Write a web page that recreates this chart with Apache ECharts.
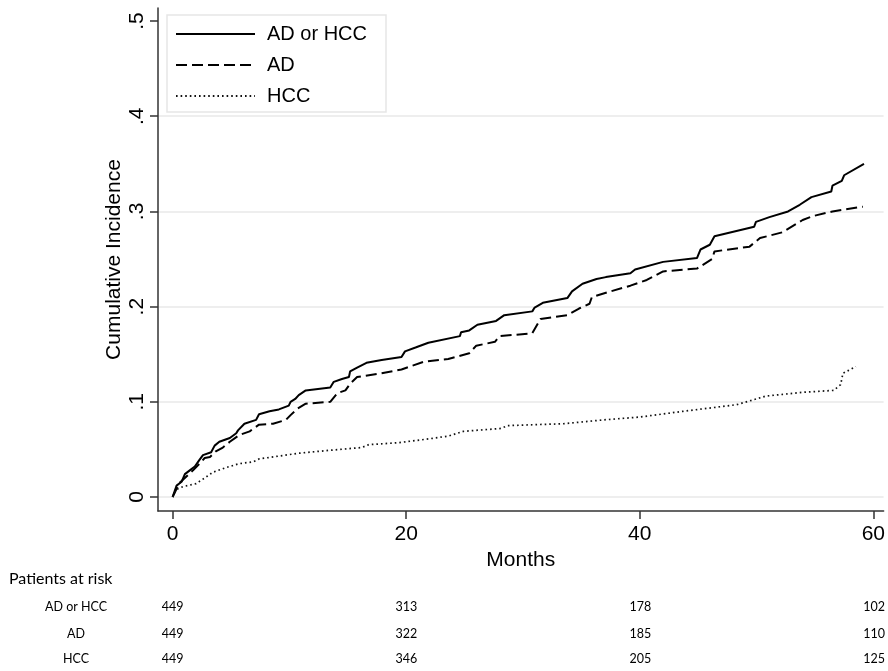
<!DOCTYPE html>
<html>
<head>
<meta charset="utf-8">
<script src="https://cdn.jsdelivr.net/npm/echarts@6/dist/echarts.min.js"></script>
<style>
  html, body { margin: 0; padding: 0; background: #fff; }
  #chart { width: 888px; height: 671px; }
</style>
</head>
<body>
<div id="chart"></div>
<script>
// cumulative incidence curves, [month, incidence]
var adOrHcc = [[0,0],[0.34,0.012],[0.77,0.016],[1.05,0.024],[1.47,0.028],[1.9,0.032],[2.3,0.039],[2.6,0.044],[3.3,0.047],[3.6,0.054],[4.0,0.058],[4.9,0.062],[5.45,0.067],[5.6,0.070],[6.15,0.077],[7.15,0.081],[7.4,0.087],[8.3,0.090],[9.1,0.092],[9.95,0.096],[10.1,0.100],[10.5,0.103],[10.8,0.107],[11.4,0.112],[13.5,0.115],[13.8,0.121],[14.5,0.124],[15.1,0.126],[15.2,0.132],[15.8,0.136],[16.6,0.141],[17.9,0.144],[19.6,0.147],[19.9,0.153],[20.8,0.157],[21.9,0.162],[24.6,0.169],[24.7,0.173],[25.4,0.175],[26.1,0.181],[27.7,0.185],[28.4,0.191],[30.8,0.195],[31.0,0.199],[31.7,0.204],[33.8,0.209],[34.2,0.216],[35.1,0.224],[36.3,0.229],[37.1,0.231],[39.2,0.235],[39.6,0.239],[42.0,0.247],[44.9,0.251],[45.2,0.260],[46.0,0.265],[46.4,0.274],[49.8,0.284],[49.95,0.289],[51.1,0.294],[52.7,0.300],[53.7,0.307],[54.7,0.315],[56.4,0.321],[56.5,0.327],[57.3,0.332],[57.5,0.338],[59.2,0.350]];
var ad = [[0,0],[0.6,0.015],[1.75,0.028],[2.3,0.035],[2.75,0.041],[3.2,0.042],[3.7,0.048],[4.3,0.052],[4.9,0.058],[5.7,0.065],[6.6,0.069],[7.4,0.076],[8.6,0.077],[9.7,0.081],[10.1,0.086],[10.7,0.093],[11.4,0.098],[13.5,0.100],[14.1,0.109],[14.8,0.112],[15.2,0.119],[15.8,0.126],[17.9,0.130],[19.6,0.134],[21.5,0.142],[23.6,0.145],[25.4,0.151],[26.0,0.159],[27.6,0.163],[28.0,0.169],[30.8,0.172],[31.5,0.187],[33.8,0.191],[34.8,0.198],[35.7,0.203],[35.9,0.210],[37.5,0.216],[39.2,0.222],[40.6,0.228],[42.0,0.237],[44.9,0.240],[46.2,0.250],[46.4,0.258],[49.4,0.263],[50.3,0.272],[52.2,0.278],[53.95,0.291],[54.8,0.295],[56.5,0.300],[59.1,0.305]];
var hcc = [[0,0],[0.34,0.008],[0.9,0.011],[2.0,0.014],[2.75,0.020],[3.45,0.026],[4.6,0.031],[5.7,0.035],[6.9,0.037],[7.4,0.040],[9.1,0.043],[10.8,0.046],[13.4,0.049],[16.2,0.052],[16.8,0.055],[19.3,0.057],[21.9,0.061],[23.6,0.064],[24.9,0.069],[28.1,0.072],[28.7,0.075],[33.5,0.077],[36.9,0.081],[40.0,0.084],[43.7,0.090],[48.3,0.097],[49.7,0.102],[50.8,0.106],[53.95,0.110],[56.6,0.112],[57.2,0.118],[57.4,0.130],[58.5,0.137]];

var seriesNames = ['AD or HCC', 'AD', 'HCC'];
var xTicks = [0, 20, 40, 60];
var yTicks = [0, 0.1, 0.2, 0.3, 0.4, 0.5];
var yGridTicks = [0, 0.1, 0.2, 0.3, 0.4];

// patients at risk table
var riskLabels = ['AD or HCC', 'AD', 'HCC'];
var riskAdOrHcc = [449, 313, 178, 102];
var riskAd = [449, 322, 185, 110];
var riskHcc = [449, 346, 205, 125];
var riskCounts = [riskAdOrHcc, riskAd, riskHcc];

var font = 'Liberation Sans';
var tableFont = 'Lato';
var xMin = -1.25, xMax = 60.88;
var yMin = -0.0147, yMax = 0.5137;
var rowTops = [597, 624, 649];

var myChart = echarts.init(document.getElementById('chart'));

var grids = [{ left: 158, right: 0, top: 8, bottom: 160 }];
var xAxes = [{
  type: 'value', gridIndex: 0, min: xMin, max: xMax,
  name: 'Months', nameLocation: 'middle', nameGap: 33,
  nameTextStyle: { fontFamily: font, fontSize: 21, color: '#000' },
  axisLine: { show: true, onZero: false, lineStyle: { color: '#333', width: 1.5 } },
  axisTick: { show: true, length: 8, customValues: xTicks, lineStyle: { color: '#333', width: 1.5 } },
  axisLabel: {
    customValues: xTicks, margin: 13, alignMaxLabel: 'center',
    fontFamily: font, fontSize: 21, color: '#000'
  },
  splitLine: { show: false }
}];
var yAxes = [{
  type: 'value', gridIndex: 0, min: yMin, max: yMax,
  name: 'Cumulative Incidence', nameLocation: 'middle', nameGap: 33, nameRotate: 90,
  nameMoveOverlap: false,
  nameTextStyle: { fontFamily: font, fontSize: 21, color: '#000' },
  axisLine: { show: true, onZero: false, lineStyle: { color: '#333', width: 1.5 } },
  axisTick: { show: true, length: 8, customValues: yTicks, lineStyle: { color: '#333', width: 1.5 } },
  axisLabel: {
    customValues: yTicks, rotate: 90, margin: 10,
    fontFamily: font, fontSize: 21, color: '#000',
    formatter: function (v) { return v === 0 ? '0' : v.toFixed(1).replace(/^0/, ''); }
  },
  splitLine: { show: false }
}, {
  // 只画网格线
  type: 'value', gridIndex: 0, min: yMin, max: yMax, position: 'left',
  axisLine: { show: false, onZero: false },
  axisTick: { show: false, customValues: yGridTicks },
  axisLabel: { show: false, customValues: yGridTicks },
  splitLine: { show: true, lineStyle: { color: '#e8e8e8', width: 1.5 } }
}];

riskLabels.forEach(function (label, i) {
  grids.push({ left: 158, right: 0, top: rowTops[i], height: 20 });
  xAxes.push({
    type: 'value', gridIndex: i + 1, min: xMin, max: xMax,
    axisLine: { show: false, onZero: false }, axisTick: { show: false }, splitLine: { show: false },
    axisLabel: {
      customValues: xTicks, margin: -10, verticalAlign: 'middle', alignMaxLabel: 'center',
      fontFamily: tableFont, fontSize: 12.5, color: '#000',
      formatter: function (v) { return String(riskCounts[i][xTicks.indexOf(v)]); }
    }
  });
  yAxes.push({
    type: 'category', gridIndex: i + 1, data: [label],
    axisLine: { show: false, onZero: false }, axisTick: { show: false }, splitLine: { show: false },
    axisLabel: { margin: 82, align: 'center', fontFamily: tableFont, fontSize: 12.5, color: '#000' }
  });
});

var option = {
  animation: false,
  backgroundColor: '#fff',
  title: {
    text: 'Patients at risk', left: 4, top: 566,
    textStyle: { fontFamily: tableFont, fontSize: 16, fontWeight: 'normal', color: '#000' }
  },
  legend: {
    orient: 'vertical', left: 167, top: 15,
    padding: [9, 19, 6, 8],
    itemWidth: 79, itemHeight: 14, itemGap: 11,
    borderColor: '#e6e6e6', borderWidth: 1.5, backgroundColor: '#fff',
    itemStyle: { opacity: 0 },
    textStyle: { fontFamily: font, fontSize: 20, color: '#000', padding: [0, 0, 0, 7] },
    data: seriesNames
  },
  grid: grids,
  xAxis: xAxes,
  yAxis: yAxes,
  series: [
    {
      name: seriesNames[0], type: 'line', xAxisIndex: 0, yAxisIndex: 0,
      symbol: 'none', data: adOrHcc,
      itemStyle: { color: '#000' },
      lineStyle: { color: '#000', width: 2, type: 'solid' }
    },
    {
      name: seriesNames[1], type: 'line', xAxisIndex: 0, yAxisIndex: 0,
      symbol: 'none', data: ad,
      itemStyle: { color: '#000' },
      lineStyle: { color: '#000', width: 2, type: [11, 5] }
    },
    {
      name: seriesNames[2], type: 'line', xAxisIndex: 0, yAxisIndex: 0,
      symbol: 'none', data: hcc,
      itemStyle: { color: '#000' },
      lineStyle: { color: '#111', width: 1.7, type: [1.6, 3] }
    }
  ]
};
myChart.setOption(option);
</script>
</body>
</html>
